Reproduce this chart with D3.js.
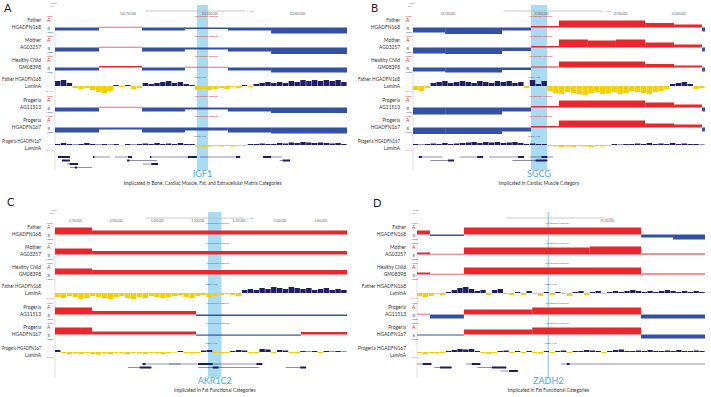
<!DOCTYPE html>
<html><head><meta charset="utf-8">
<script src="https://cdn.jsdelivr.net/npm/d3@7"></script>
<style>body{margin:0;background:#fff}svg{display:block}text{font-family:Lato,"Open Sans",sans-serif}</style>
</head><body><svg id="c" width="711" height="397"></svg>
<script>
// ---------------- DATA ----------------
const panelLetters = ["A", "B", "C", "D"];
const cnvLabels = [["Father", "HGADFN168"], ["Mother", "AG03257"], ["Healthy Child", "GM08398"], ["Progeria", "AG11513"], ["Progeria", "HGADFN167"]];
const laminLabels = [["Father HGADFN168", "LaminA"], ["Progeria HGADFN167", "LaminA"]];
const geneNames = ["IGF1", "SGCG", "AKR1C2", "ZADH2"];
const captions = [
  "Implicated in Bone, Cardiac Muscle, Fat, and Extracellular Matrix Categories",
  "Implicated in Cardiac Muscle Category",
  "Implicated in Fat Functional Categories",
  "Implicated in Fat Functional Categories"
];
// highlighted gene window [start%, end%]
const highlightA = [48.6, 52.4];
const highlightB = [40.4, 45.9];
const highlightC = [52.4, 57.0];
const highlightD = [45.3, 45.9];
// ruler tick labels [pos%, label]
const rulerA = [[25, "102,750,000"], [53, "102,800,000"], [83, "102,850,000"]];
const rulerB = [[12, "23,700,000"], [44, "23,800,000"], [71, "23,900,000"], [91, "24,000,000"]];
const rulerC = [[7, "4,750,000"], [21, "4,900,000"], [35, "5,050,000"], [49, "5,200,000"], [63, "5,350,000"], [77, "5,500,000"], [91, "5,650,000"]];
const rulerD = [[66, "70,700,000"]];

// CNV segments: [start%, end%, value]  (positive = A/red, negative = B/blue)
const cnvA_father = [[0, 15.1, -3], [15.1, 29.8, 0.4], [29.8, 44.5, -3], [44.5, 59.2, -1.5], [59.2, 74.0, -3], [74.0, 100, -6]];
const cnvA_mother = [[0, 15.1, -4], [15.1, 29.8, 0.3], [29.8, 44.5, -4], [44.5, 59.2, -2], [59.2, 74.0, -4], [74.0, 100, -6.5]];
const cnvA_child = [[0, 15.1, -3], [15.1, 29.8, 1.5], [29.8, 44.5, -3], [44.5, 59.2, 0.3], [59.2, 74.0, -3], [74.0, 100, -5]];
const cnvA_prog1 = [[0, 15.1, -4], [15.1, 29.8, 0.3], [29.8, 44.5, -4], [44.5, 59.2, -2], [59.2, 74.0, -4], [74.0, 100, -5.5]];
const cnvA_prog2 = [[0, 15.1, -5], [15.1, 29.8, -2], [29.8, 44.5, -5], [44.5, 59.2, -3], [59.2, 74.0, -5], [74.0, 100, -6]];

const cnvB_father = [[0, 11.0, -5], [11.0, 30.5, -6.5], [30.5, 40.4, -3], [40.4, 50.0, 1.5], [50.0, 79.5, 7], [79.5, 89.4, 4.5], [89.4, 99.0, 3], [99.0, 100, -4]];
const cnvB_mother = [[0, 11.0, -6], [11.0, 30.5, -6.5], [30.5, 40.4, -3.5], [40.4, 50.0, 1.5], [50.0, 59.9, 8], [59.9, 69.5, 7], [69.5, 79.5, 8], [79.5, 89.4, 5], [89.4, 99.0, 3], [99.0, 100, -4]];
const cnvB_child = [[0, 11.0, -4], [11.0, 30.5, -5], [30.5, 40.4, -2.5], [40.4, 50.0, 1], [50.0, 79.5, 6], [79.5, 89.4, 3.5], [89.4, 99.0, 2], [99.0, 100, -4]];
const cnvB_prog1 = [[0, 11.0, -7], [11.0, 30.5, -7], [30.5, 40.4, -4], [40.4, 50.0, 1.5], [50.0, 79.5, 7], [79.5, 89.4, 5], [89.4, 99.0, 3], [99.0, 100, -4]];
const cnvB_prog2 = [[0, 11.0, -6.5], [11.0, 30.5, -6.5], [30.5, 40.4, -4], [40.4, 50.0, 1.5], [50.0, 79.5, 7], [79.5, 89.4, 4], [89.4, 99.0, 3], [99.0, 100, -4]];

const cnvC_father = [[0, 12.7, 7], [12.7, 100, 4]];
const cnvC_mother = [[0, 12.7, 6], [12.7, 100, 3.5]];
const cnvC_child = [[0, 12.7, 6], [12.7, 100, 4.5]];
const cnvC_prog1 = [[0, 12.7, 7], [12.7, 48.3, 3.5], [48.3, 100, -1.5]];
const cnvC_prog2 = [[0, 12.7, 7], [12.7, 48.3, 3], [48.3, 84.2, -1.2], [84.2, 100, 2.5]];

const cnvD_father = [[0, 4.5, 4], [4.5, 16.3, -1.5], [16.3, 77.8, 7], [77.8, 88.9, -3], [88.9, 100, -5]];
const cnvD_mother = [[0, 4.5, 2], [4.5, 16.3, 0.4], [16.3, 60, 7], [60, 77.8, 8], [77.8, 100, 1]];
const cnvD_child = [[0, 4.5, 2], [4.5, 16.3, 0.4], [16.3, 77.8, 7], [77.8, 100, 1]];
const cnvD_prog1 = [[0, 4.5, 0.6], [4.5, 16.3, -4], [16.3, 40, 5], [40, 77.8, 7], [77.8, 100, -4]];
const cnvD_prog2 = [[0, 16.3, -1], [16.3, 40, 5], [40, 77.8, 7], [77.8, 100, -4]];

// LaminA signal, 50 equal bins across the window (positive navy, negative yellow)
const laminA_father = [5, 6, 3, -2, -3, -2, -4, -6, -7, -5, 1, -1, 1, -3, -2, 3, 2, 3, 4, 5, 3, 4, 2, 1, -4, -3, -4, -3, -2, -3, -1, -2, 1, -1, 2, 3, 4, 3, 4, 3, 5, 4, 6, 5, 6, 5, 6, 5, 6, 4];
const laminA_prog = [1, 2, 1, 0.5, 1, 2, 1, 0.5, 1, 0.5, 1, -0.5, 1, 0.5, 1, 1.5, 1, 2, 1, 1.5, 1, 2, 1, 1, -1.5, -2, -1.5, -1, -1.5, -1, -1.5, -1, -1, 1, 1, 1.5, 1, 1, 2, 1.5, 2.5, 2, 3, 2.5, 2, 2.5, 2, 1.5, 2, 1];
const laminB_father = [-4, -5, -2, 3, 4, 5, 3, 4, 5, 4, 3, 5, 4, 3, 5, 4, 5, 3, 4, -2, 6, 2, 5, -5, -7, -8, -6, -7, -8, -9, -7, -6, -8, -7, -6, -8, -7, -5, -6, -7, -8, -6, -5, -3, 2, 3, 4, 2, -3, -2];
const laminB_prog = [1, 0.5, 1, 1.5, 1, 2, 1, 1.5, 2, 2.5, 3, 2, 3, 2.5, 3, 2, 2.5, 3, 2, 1, 1.5, 1, 1, -1, -1.5, -2, -1.5, -2, -1, -1.5, -2, -1, -1.5, -1, 1, 0.5, 1, 1, 1.5, 1, 2, 1, 1.5, 1, 2, 1, 1.5, 1, 1, 0.5];
const laminC_father = [-4, -5, -3, -4, -6, -5, -3, -4, -5, -6, -4, -3, -5, -6, -4, -5, -3, -4, -5, -4, -3, -2, -4, -5, -3, -2, -4, -3, -2, -1, -2, -3, 3, 4, 3, 5, 4, 6, 5, 4, 6, 5, 4, 5, 3, 4, 5, 3, 4, 3];
const laminC_prog = [2, -1, -2, -1.5, -2, -1, -2, -2.5, -1.5, -2, -1, -1.5, -2, -1, -1.5, -2, -1, -1.5, -2, -1, -0.5, 1, -1, -1.5, -1, 1.5, 2, -1, -1.5, -1, 1, 2, 1.5, -1, -1, 3, 2.5, -1, 2, 1.5, -1, -1.5, 1, 0.5, 1, -1, 1, 0.5, 1, 0.5];
const laminD_father = [-3, -4, -3, -1, -2, 1, 3, 5, 6, 4, 2, 3, -2, 3, 4, -1, -2, 1, -2, 2, -1, -3, 1, -2, 1, -1, -3, 1, 2, -2, 1, 2, -1, 1, 2, 1, 2, 3, 2, 1, 2, 1, 2, 3, 2, 1, 2, 1, 2, 1];
const laminD_prog = [-1, -2, -1, -1.5, -1, 1, 2, 3, 2.5, 3, 1, -1, -2, -1, 1, 1.5, -1, 1, -1, 1, -1, -1.5, 1, -1, 1, 1.5, -1, 1, 1, 2, 1.5, 1, -1, 1, 2, 2.5, 1, 1, 1.5, 1, 2, 1, 1, 1.5, 1, 2, 1, 1, 1.5, 1];

// gene models: [start%, end%, row, thickStart%, thickEnd%]
const genesA = [[1, 5.1, 0, 1, 5.1], [2.4, 5.1, 1, 2.4, 5.1], [4.1, 7.9, 2, 5, 7.9], [5.1, 12.7, 3, 6.8, 7.5], [13, 18.8, 0, 13, 13.5], [20.5, 26.4, 0, 25, 26.4], [24.7, 34.9, 1, 24.7, 25.5], [30.1, 35.3, 2, 33, 35.3], [32.5, 45.5, 0, 32.5, 33], [45.5, 48.6, 0, 45.5, 48.6], [49.7, 63.4, 0, 62, 63.4], [71.2, 77.7, 0, 71.2, 74], [77, 80.5, 1, 78, 80.5]];
const genesB = [[2, 10, 0, 2, 3], [6, 14, 1, 12, 14], [16, 24, 0, 22, 24], [26, 38, 0, 36, 38], [34, 46, 1, 42, 46], [40, 48, 0, 44, 46]];
const genesC = [[25, 33, 1, 29, 33], [30, 43, 0, 30, 31], [39, 57, 0, 49, 54], [49, 70, 1, 54, 56], [57, 71, 0, 69, 71], [79, 86, 1, 84, 86]];
const genesD = [[0, 5, 0, 2, 5], [6, 12, 1, 8, 12], [17, 22, 0, 19, 22], [21, 31, 1, 26, 31], [29, 35, 2, 32, 35], [50, 100, 0, 52, 53]];

// ---------------- LAYOUT ----------------
const panels = [
  { letter: 0, x0: 55, x1: 347, labelX: 41, lx: 4, ly: 12, yOff: 0, hl: highlightA, ruler: rulerA, cnv: [cnvA_father, cnvA_mother, cnvA_child, cnvA_prog1, cnvA_prog2], lam: [laminA_father, laminA_prog], genes: genesA, gName: 0 },
  { letter: 1, x0: 413, x1: 705, labelX: 400, lx: 371, ly: 12, yOff: 0, hl: highlightB, ruler: rulerB, cnv: [cnvB_father, cnvB_mother, cnvB_child, cnvB_prog1, cnvB_prog2], lam: [laminB_father, laminB_prog], genes: genesB, gName: 1 },
  { letter: 2, x0: 55, x1: 347, labelX: 41, lx: 7, ly: 206, yOff: 207, hl: highlightC, ruler: rulerC, cnv: [cnvC_father, cnvC_mother, cnvC_child, cnvC_prog1, cnvC_prog2], lam: [laminC_father, laminC_prog], genes: genesC, gName: 2 },
  { letter: 3, x0: 417, x1: 705, labelX: 406, lx: 373, ly: 207, yOff: 207, hl: highlightD, ruler: rulerD, cnv: [cnvD_father, cnvD_mother, cnvD_child, cnvD_prog1, cnvD_prog2], lam: [laminD_father, laminD_prog], genes: genesD, gName: 3 }
];
const cnvBase = [27.5, 47.5, 67.5, 107.5, 127.5];
const lamBase = [86, 145];
const lamLabelY = [[81, 88], [143, 150]];
const geneRowY = [157, 160.5, 164, 167.5];

const C = { blue: "#3450a2", red: "#e8262b", navy: "#1e1e6b", yellow: "#f2cf06", hl: "#a9dcf2", gname: "#45ace0", gene: "#1b1d5e" };

const svg = d3.select("#c");
const hScale = d3.scaleLinear().domain([0, 10]).range([0, 10]);
const LF = 4.9; // label font size

function label(g, xr, y, txt, maxW) {
  const t = g.append("text").attr("x", xr).attr("y", y).attr("font-size", LF).attr("fill", "#333").attr("text-anchor", "end").text(txt);
  const w = t.node().getComputedTextLength();
  if (w > maxW) t.attr("textLength", maxW).attr("lengthAdjust", "spacingAndGlyphs");
  return t;
}

panels.forEach(P => {
  const g = svg.append("g");
  const x = d3.scaleLinear().domain([0, 100]).range([P.x0, P.x1]);
  const Y = v => v + P.yOff;
  const maxW = P.labelX - (P.x0 < 200 ? 2 : 358);

  // highlight
  const hx0 = x(P.hl[0]), hx1 = x(P.hl[1]);
  g.append("rect").attr("x", hx0).attr("y", Y(5)).attr("width", Math.max(1, hx1 - hx0)).attr("height", 165).attr("fill", C.hl);

  // letter
  g.append("text").attr("x", P.lx).attr("y", P.ly).attr("font-size", 11).attr("fill", "#222").text(panelLetters[P.letter]);

  // ruler
  g.append("text").attr("x", P.x0 - 4).attr("y", Y(3.5)).attr("font-size", 2.6).attr("fill", "#777").text("Scale");
  g.append("text").attr("x", P.x0 - 5).attr("y", Y(6.5)).attr("font-size", 2.6).attr("fill", "#777").text("chr:");
  g.append("line").attr("x1", x(31)).attr("x2", x(65)).attr("y1", Y(11)).attr("y2", Y(11)).attr("stroke", "#bbb").attr("stroke-width", 0.8);
  g.append("text").attr("x", x(65) + 2).attr("y", Y(11.5)).attr("font-size", 2.6).attr("fill", "#666").text("1 Mb");
  P.ruler.forEach(t => {
    g.append("text").attr("x", x(t[0])).attr("y", Y(15)).attr("font-size", 2.8).attr("fill", "#666").attr("text-anchor", "middle").text(t[1]);
  });

  // left frame line
  g.append("line").attr("x1", P.x0).attr("x2", P.x0).attr("y1", Y(24)).attr("y2", Y(170)).attr("stroke", "#ccc").attr("stroke-width", 0.6);

  // CNV tracks
  P.cnv.forEach((segs, i) => {
    const b = Y(cnvBase[i]);
    label(g, P.labelX, b - 6, cnvLabels[i][0], maxW);
    label(g, P.labelX, b + 1.5, cnvLabels[i][1], maxW);
    g.append("text").attr("x", P.labelX + 6).attr("y", b - 5.5).attr("font-size", 5).attr("fill", C.red).text("A");
    g.append("text").attr("x", P.labelX + 6.5).attr("y", b + 2).attr("font-size", 4).attr("fill", C.blue).text("B");
    g.append("text").attr("x", P.labelX + 5).attr("y", b - 11).attr("font-size", 2.2).attr("fill", C.red).text("1.0000 _");
    g.append("text").attr("x", P.labelX + 5).attr("y", b + 5.5).attr("font-size", 2.2).attr("fill", C.blue).text("1.0000 _");
    g.append("text").attr("x", x(P.hl[0]) - 2).attr("y", b - 11).attr("font-size", 2.2).attr("fill", C.red).text("Copy Number Segments");
    g.selectAll(null).data(segs).enter().append("rect")
      .attr("x", d => x(d[0]))
      .attr("width", d => x(d[1]) - x(d[0]))
      .attr("y", d => d[2] >= 0 ? b - Math.max(0.7, hScale(d[2])) : b)
      .attr("height", d => Math.max(0.7, hScale(Math.abs(d[2]))))
      .attr("fill", d => d[2] >= 0 ? C.red : C.blue);
  });

  // LaminA tracks
  P.lam.forEach((vals, i) => {
    const b = Y(lamBase[i]);
    label(g, P.labelX, Y(lamLabelY[i][0]), laminLabels[i][0], maxW);
    label(g, P.labelX, Y(lamLabelY[i][1]), laminLabels[i][1], maxW);
    g.append("text").attr("x", P.labelX + 6).attr("y", b + 1).attr("font-size", 3).attr("fill", "#555").text("-");
    g.append("text").attr("x", P.labelX + 5).attr("y", b + 6).attr("font-size", 2.2).attr("fill", C.red).text("-0.4117 _");
    g.append("text").attr("x", x(P.hl[0]) - 3).attr("y", b - 8).attr("font-size", 2.2).attr("fill", C.blue).text("LaminA LAD");
    const bw = (x(100) - x(0)) / vals.length;
    g.selectAll(null).data(vals).enter().append("rect")
      .attr("x", (d, j) => x(j * 100 / vals.length))
      .attr("width", bw - 0.4)
      .attr("y", d => d >= 0 ? b - hScale(d) : b)
      .attr("height", d => hScale(Math.abs(d)))
      .attr("fill", d => d >= 0 ? C.navy : C.yellow);
  });

  // gene models
  P.genes.forEach(gm => {
    const gy = Y(geneRowY[gm[2]]);
    g.append("line").attr("x1", x(gm[0])).attr("x2", x(gm[1])).attr("y1", gy).attr("y2", gy).attr("stroke", C.gene).attr("stroke-width", 0.5);
    g.append("rect").attr("x", x(gm[3])).attr("y", gy - 1).attr("width", Math.max(0.8, x(gm[4]) - x(gm[3]))).attr("height", 2).attr("fill", C.gene);
  });

  // gene name and caption
  const cx = (x(P.hl[0]) + x(P.hl[1])) / 2;
  g.append("text").attr("x", cx).attr("y", Y(177)).attr("font-size", 9).attr("fill", C.gname).attr("text-anchor", "middle").text(geneNames[P.gName]);
  g.append("text").attr("x", cx).attr("y", Y(185)).attr("font-size", 4.8).attr("fill", "#333").attr("text-anchor", "middle").text(captions[P.letter]);
});
</script></body></html>
